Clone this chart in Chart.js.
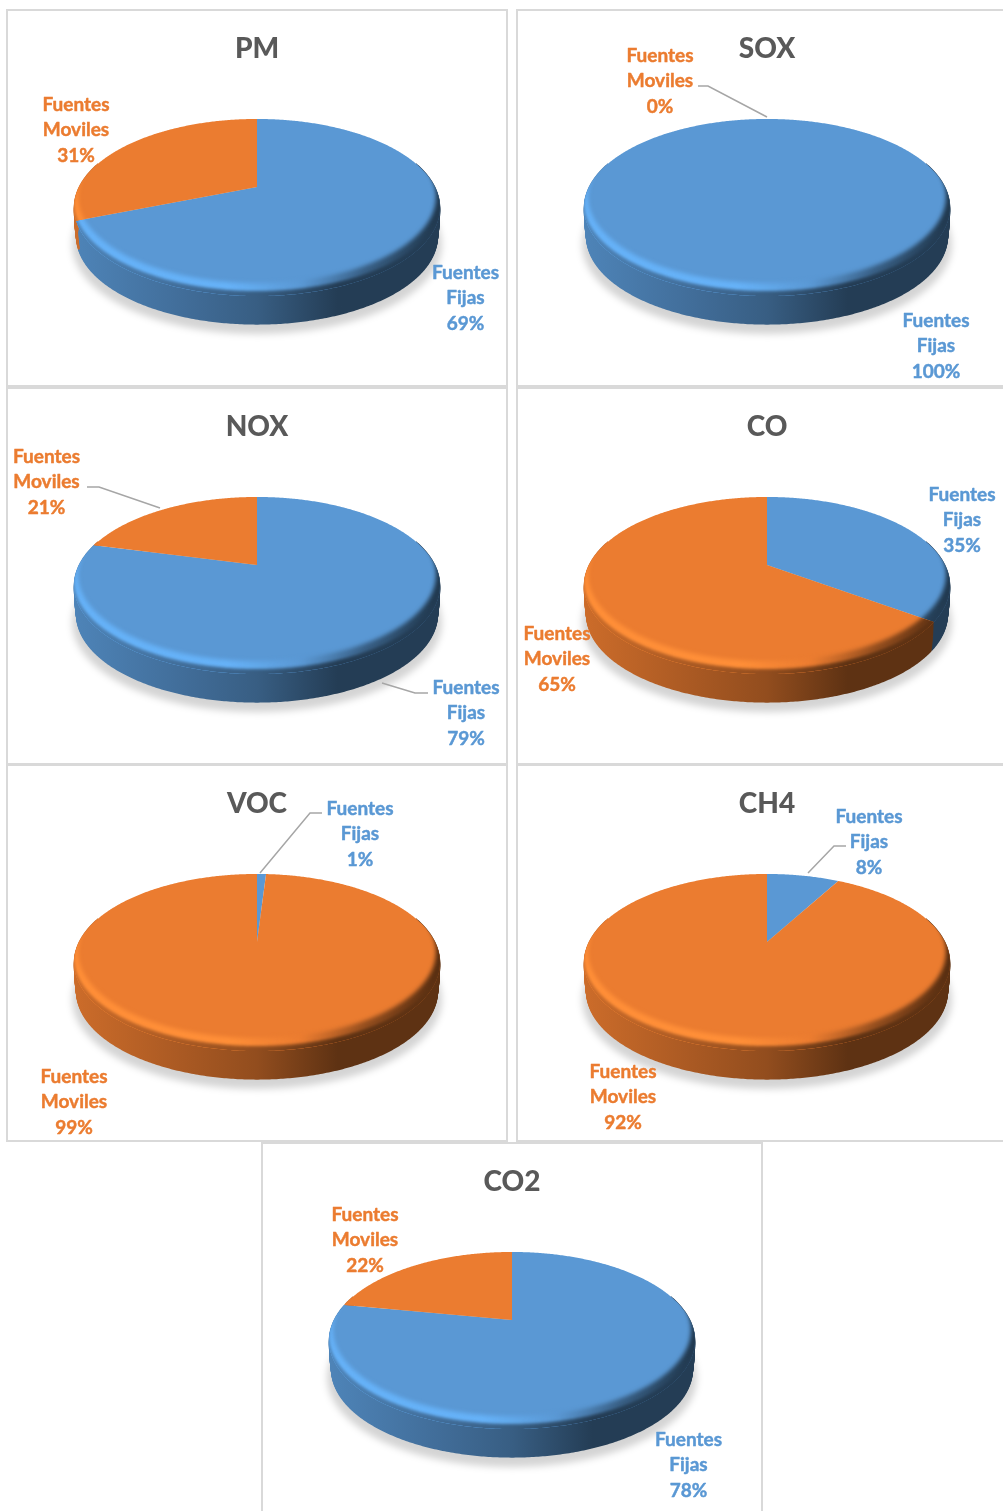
<!DOCTYPE html>
<html><head><meta charset="utf-8">
<script src="https://cdn.jsdelivr.net/npm/chart.js@4"></script>
<style>
html,body{margin:0;padding:0;background:#fff;overflow:hidden;width:1003px;height:1511px}
.panel{position:absolute;box-sizing:border-box;border:2px solid #d9d9d9;background:#fff}
canvas{position:absolute}
</style></head><body>
<script>
// ---- data ----
const categories = ["Fuentes Fijas", "Fuentes Moviles"];
const pmValues  = [69, 31];
const soxValues = [100, 0];
const noxValues = [79, 21];
const coValues  = [35, 65];
const vocValues = [1, 99];
const ch4Values = [8, 92];
const co2Values = [78, 22];

// ---- styling ----
const faceColors  = ["#5a98d4", "#eb7c30"];
const lightColors = ["#66b2f8", "#ff8f38"];
const darkMix = {wall:[[0,.87],[.3,.72],[.5,.62],[.72,.40],[1,.40]]};
const K = 0.2316, YR = 0.4708, ELL = 20, DEPTH = 30, RADIUS = 178;

// panel origin; label offsets are panel coordinates [centerX, firstLineY]
const panels = [
 {title:"PM",  values:pmValues,  px:7,  py:10,  labels:[[458.5,263],[69,95]],  lines:[]},
 {title:"SOX", values:soxValues, px:517,py:10,  labels:[[419,311],[143,46]],
  lines:[[[181,76],[191,76],[250,107]]]},
 {title:"NOX", values:noxValues, px:7,  py:388, labels:[[459,300],[39.5,69]],
  lines:[[[421,305],[408,305],[375,295]],[[80,99],[92,99],[153,120]]]},
 {title:"CO",  values:coValues,  px:517,py:388, labels:[[445,107],[40,246]],   lines:[]},
 {title:"VOC", values:vocValues, px:7,  py:765, labels:[[353,44],[67,312]],
  lines:[[[315,48],[303,48],[253,108]]]},
 {title:"CH4", values:ch4Values, px:517,py:765, labels:[[352,52],[106,307]],
  lines:[[[329,81],[317,81],[291,108]]]},
 {title:"CO2", values:co2Values, px:262,py:1143,labels:[[426.5,297],[103,72]], lines:[]}
];
const boxes = [[6,9,502,378],[516,9,520,378],[6,387,502,378],[516,387,520,378],
               [6,764,502,378],[516,764,520,378],[261,1142,502,400]];

function shade(hex,f){
  const n=parseInt(hex.slice(1),16);
  return `rgb(${Math.round((n>>16&255)*f)},${Math.round((n>>8&255)*f)},${Math.round((n&255)*f)})`;
}
function project(g,th,s=1,dy=0){
  const u=Math.cos(th),v=Math.sin(th),w=1-K*v;
  const ex=g.R*u/w, ey=g.b*v/w;
  const cy=g.y+g.ell;
  return [g.x+ex*s, cy+(g.y+ey-cy)*s+dy];
}
function trace(ctx,g,a,b,s,dy,start){
  const n=Math.max(2,Math.ceil(Math.abs(b-a)/0.01));
  for(let i=0;i<=n;i++){
    const p=project(g,a+(b-a)*i/n,s,dy);
    (i===0&&start)?ctx.moveTo(p[0],p[1]):ctx.lineTo(p[0],p[1]);
  }
}
function hGrad(ctx,g,stops){
  const w=g.R*1.03, lg=ctx.createLinearGradient(g.x-w,0,g.x+w,0);
  stops.forEach(s=>lg.addColorStop(s[0],s[1]));
  return lg;
}

const pie3d = {
  id:"pie3d",
  beforeDatasetsDraw(chart){
    const ctx=chart.ctx, arcs=chart.getDatasetMeta(0).data;
    const g={x:arcs[0].x,y:arcs[0].y,R:arcs[0].outerRadius,b:arcs[0].outerRadius*YR,ell:ELL};
    const TAU=Math.PI*2;
    // soft ground shadow
    ctx.save();
    ctx.filter="blur(3.5px)";
    ctx.fillStyle="rgba(0,0,0,0.17)";
    ctx.beginPath(); trace(ctx,g,0,TAU,1.01,DEPTH+7,true); ctx.closePath(); ctx.fill();
    ctx.restore();
    // side wall: the front part of the slice outline swept downward
    arcs.forEach((arc,i)=>{
      const a=Math.max(arc.startAngle,-0.3), b=Math.min(arc.endAngle,Math.PI+0.3);
      if(b-a<1e-4) return;
      const base=faceColors[i];
      ctx.save();
      ctx.strokeStyle=hGrad(ctx,g,darkMix.wall.map(s=>[s[0],shade(base,s[1])]));
      ctx.lineWidth=2;
      for(let t=1;t<=DEPTH;t+=1){
        const q=t/DEPTH;
        ctx.beginPath();
        trace(ctx,g,a,b,0.996-0.012*q*q,t-1,true);
        ctx.stroke();
      }
      ctx.restore();
    });
    // top face with bevelled rim
    arcs.forEach((arc,i)=>{
      if(arc.endAngle-arc.startAngle<1e-4) return;
      ctx.save();
      ctx.beginPath();
      ctx.moveTo(g.x,g.y);
      trace(ctx,g,arc.startAngle,arc.endAngle,1,0,false);
      ctx.closePath();
      ctx.fillStyle=arc.options.backgroundColor;
      ctx.fill();
      ctx.clip();
      const base=faceColors[i], light=lightColors[i];
      ctx.filter="blur(2px)";
      ctx.beginPath();
      ctx.rect(g.x-260,g.y-160,520,420);
      trace(ctx,g,0,TAU,0.978,-11,true);
      ctx.closePath();
      ctx.fillStyle=hGrad(ctx,g,[[0,light],[.42,light],[.62,base],[.8,shade(base,.62)],[1,shade(base,.36)]]);
      ctx.fill("evenodd");
      // front edge of the bevel melts into the wall (tapers to nothing at the sides)
      ctx.filter="blur(1.8px)";
      ctx.beginPath();
      ctx.rect(g.x-260,g.y-160,520,420);
      trace(ctx,g,0,TAU,1,-5,true);
      ctx.closePath();
      ctx.fillStyle=hGrad(ctx,g,darkMix.wall.map(s=>[s[0],shade(base,s[1])]));
      ctx.fill("evenodd");
      ctx.restore();
    });
    return false;
  },
  afterDraw(chart,args,opts){
    const ctx=chart.ctx, vals=chart.data.datasets[0].data;
    ctx.save();
    ctx.strokeStyle="#a6a6a6"; ctx.lineWidth=1.5;
    opts.lines.forEach(l=>{
      ctx.beginPath();
      l.forEach((p,i)=>i?ctx.lineTo(p[0],p[1]):ctx.moveTo(p[0],p[1]));
      ctx.stroke();
    });
    ctx.font="bold 19px Lato";
    ctx.textAlign="center"; ctx.textBaseline="middle";
    ctx.lineWidth=0.45; ctx.lineJoin="round";
    chart.data.labels.forEach((name,i)=>{
      const [cx,cy]=opts.labels[i];
      ctx.fillStyle=faceColors[i]; ctx.strokeStyle=faceColors[i];
      const rows=name.split(" ").concat(vals[i]+"%");
      const gaps=[0,25,51];
      rows.forEach((t,r)=>{ctx.fillText(t,cx,cy+gaps[r]);ctx.strokeText(t,cx,cy+gaps[r]);});
    });
    ctx.restore();
  }
};

boxes.forEach(b=>{
  const d=document.createElement("div");
  d.className="panel";
  d.style.cssText=`left:${b[0]}px;top:${b[1]}px;width:${b[2]}px;height:${b[3]}px`;
  document.body.appendChild(d);
});
panels.forEach(p=>{
  const c=document.createElement("canvas");
  c.width=498; c.height=376;
  c.style.cssText=`left:${p.px}px;top:${p.py}px;width:498px;height:376px`;
  document.body.appendChild(c);
  new Chart(c,{
    type:"pie",
    data:{labels:categories,datasets:[{data:p.values,backgroundColor:faceColors,borderWidth:0,radius:RADIUS}]},
    options:{
      responsive:false,animation:false,devicePixelRatio:1,
      layout:{padding:{left:2,bottom:81}},
      plugins:{
        legend:{display:false},tooltip:{enabled:false},
        title:{display:true,text:p.title,color:"#595959",font:{family:"Lato",size:28,weight:"900"},padding:{top:22,bottom:3.4}},
        pie3d:{labels:p.labels,lines:p.lines}
      }
    },
    plugins:[pie3d]
  });
});
</script>
</body></html>
